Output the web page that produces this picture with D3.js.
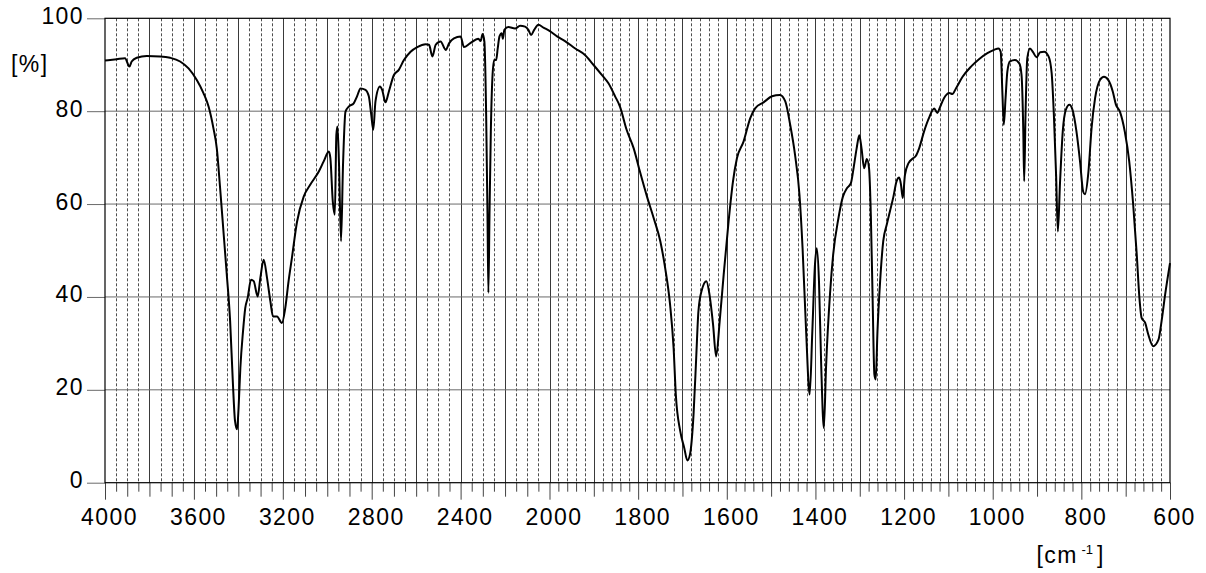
<!DOCTYPE html>
<html>
<head>
<meta charset="utf-8">
<script src="https://cdn.jsdelivr.net/npm/d3@7"></script>
<style>
  html, body { margin: 0; padding: 0; background: #fff; }
  svg { display: block; }
  text { font-family: "Liberation Sans", Arial, Helvetica, sans-serif; fill: #000; }
</style>
</head>
<body>
<svg id="chart" width="1206" height="573"></svg>
<script>
// ---- data ----
const wavenumbers = [
  4000,3947,3910,3890,3880,3857,3812,3752,3707,3662,3624,3587,3557,3534,3512,3497,3482,3467,3452,3437,
  3425,3415,3406,3399,3391,3379,3369,3358,3343,3331,3313,3301,3286,3271,3256,3244,3226,3204,3189,3174,
  3159,3136,3106,3076,3038,3016,2993,2986,2975,2966,2959,2954,2947,2938,2929,2918,2903,2881,2866,2850,
  2828,2813,2802,2793,2783,2763,2753,2738,2723,2700,2678,2655,2625,2595,2557,2542,2527,2512,2490,2467,
  2452,2430,2400,2385,2358,2320,2310,2301,2293,2285,2279,2275,2270,2264,2257,2249,2240,2233,2225,2215,
  2210,2203,2185,2155,2132,2110,2095,2083,2069,2050,2027,2000,1983,1965,1942,1920,1901,1882,1867,1852,
  1841,1826,1810,1796,1780,1765,1750,1739,1728,1720,1715,1705,1696,1689,1683,1675,1669,1664,1656,1646,
  1639,1631,1624,1616,1607,1596,1586,1577,1562,1547,1536,1517,1498,1480,1468,1457,1446,1436,1429,1421,
  1413,1407,1401,1397,1392,1387,1381,1376,1367,1360,1348,1338,1329,1320,1314,1307,1301,1296,1290,1284,
  1279,1275,1271,1267,1264,1260,1254,1247,1239,1232,1224,1217,1211,1207,1203,1198,1190,1179,1174,1166,
  1155,1144,1132,1125,1120,1110,1098,1091,1083,1068,1049,1031,1012,997,987,982,978,975,971,967,
  961,950,940,935,931,929,926,922,916,909,901,893,884,874,867,862,857,853,848,842,
  835,827,820,811,803,796,792,784,777,769,758,749,739,729,722,713,702,692,683,675,
  669,664,656,649,638,626,619,611,600
];
const transmittance = [
  90.9,91.2,91.4,89.6,90.7,91.5,91.9,91.8,91.5,90.7,89.2,86.7,83.9,81.0,76.3,72.0,63.4,54.1,44.8,34.8,
  21.9,13.3,11.5,16.1,24.7,32.6,37.6,39.8,43.7,43.4,40.1,44.1,48.0,44.1,39.1,35.8,35.8,34.4,37.6,43.4,
  48.4,56.2,61.6,64.2,67.0,69.2,71.3,69.9,60.5,57.7,74.9,76.7,68.5,52.0,68.5,79.9,81.0,81.7,83.2,84.9,
  84.6,83.2,79.2,76.0,82.1,85.3,84.6,81.9,84.2,87.8,88.9,91.0,92.8,93.8,94.4,94.3,91.8,94.3,95.0,93.2,
  94.6,95.7,96.1,93.8,94.6,95.6,95.1,96.6,95.0,79.2,57.7,40.9,57.7,75.6,87.1,91.0,91.0,93.5,96.1,96.8,
  95.6,97.5,98.1,97.8,98.4,98.2,97.5,96.4,97.5,98.6,98.0,97.3,96.1,95.1,93.5,92.1,90.0,87.8,86.0,83.2,
  81.0,76.0,72.0,67.0,61.6,57.0,52.0,46.2,38.4,29.0,19.0,11.1,7.5,4.8,6.1,14.7,26.9,36.9,41.6,43.4,
  40.5,34.1,27.2,34.8,44.8,56.2,64.9,69.9,73.5,78.5,80.6,81.9,83.2,83.5,82.1,77.1,70.6,62.0,50.5,32.6,
  19.0,32.6,47.0,50.5,43.4,25.4,11.8,25.0,40.8,49.1,57.0,61.6,63.4,64.5,67.7,72.0,74.8,72.0,67.7,69.7,
  67.7,57.7,39.8,23.3,22.2,32.6,43.4,52.0,55.6,58.4,61.6,64.9,65.7,64.2,61.3,66.3,68.8,69.9,70.3,72.0,
  75.6,78.5,80.6,79.6,80.6,82.8,83.9,83.7,84.9,87.4,89.6,91.2,92.5,93.2,93.5,92.8,83.5,77.1,82.8,88.5,
  90.7,91.0,90.3,87.8,75.6,64.9,79.2,91.4,93.5,92.7,91.6,92.7,92.8,91.8,88.2,79.2,66.3,54.1,64.9,75.6,
  80.3,81.4,80.3,75.6,69.2,62.7,62.1,67.0,76.3,82.8,86.7,87.4,86.7,84.2,81.4,79.9,75.6,69.2,59.8,49.1,
  39.8,35.5,34.4,31.9,29.4,30.8,34.8,40.5,47.3
];
const xTickLabels = [4000, 3600, 3200, 2800, 2400, 2000, 1800, 1600, 1400, 1200, 1000, 800, 600];
const yTickLabels = [0, 20, 40, 60, 80, 100];
const yAxisTitle = "[%]";
const xAxisTitle = ["[cm", "-1", "]"];

// ---- layout ----
const L = 105, R = 1170, T = 18.3, B = 482.7;
const svg = d3.select("#chart");

// piecewise wavenumber scale (scale change at 2000 cm-1)
const x = d3.scaleLinear().domain([4000, 2000, 600]).range([L, 549.5, R]);
const y = d3.scaleLinear().domain([0, 100]).range([B, T]);

// ---- vertical grid ----
const leftGrid = d3.range(3950, 2000, -50);
const rightGrid = d3.range(2000, 600, -20);
const gridVals = leftGrid.concat(rightGrid).map(v => ({
  v, solid: v > 2000 ? v % 200 === 0 : v % 100 === 0
}));
const grid = svg.append("g");
grid.selectAll("line.v").data(gridVals).join("line")
  .attr("x1", d => Math.round(x(d.v)) + 0.5).attr("x2", d => Math.round(x(d.v)) + 0.5)
  .attr("y1", T).attr("y2", B)
  .attr("stroke", d => d.solid ? "#3a3a3a" : "#222")
  .attr("stroke-width", d => d.solid ? 1 : 0.8)
  .attr("stroke-dasharray", d => d.solid ? null : "3,2");

// horizontal grid
grid.selectAll("line.h").data(yTickLabels.filter(v => v > 0 && v < 100)).join("line")
  .attr("x1", L).attr("x2", R)
  .attr("y1", d => y(d)).attr("y2", d => y(d))
  .attr("stroke", "#6a6a6a").attr("stroke-width", 1);

// ---- x axis ticks (three lengths) ----
const allTicks = d3.range(4000, 2000, -50).concat(d3.range(2000, 599, -20));
function tickLen(v) {
  if (v > 2000) return v % 400 === 0 ? 17 : (v % 100 === 0 ? 14 : 9);
  return v % 200 === 0 ? 17 : (v % 100 === 0 ? 14 : 9);
}
[9, 14, 17].forEach(len => {
  const vals = allTicks.filter(v => tickLen(v) === len);
  const ax = d3.axisBottom(x).tickValues(vals).tickSize(len).tickSizeOuter(0)
    .tickFormat(len === 17 ? d3.format("d") : "");
  const g = svg.append("g").attr("transform", `translate(0,${B})`).call(ax);
  g.select(".domain").remove();
  g.selectAll(".tick line").attr("stroke", "#444").attr("stroke-width", 1);
  g.selectAll(".tick text")
    .attr("y", 42).attr("dy", 0).attr("dx", 4)
    .style("font-size", "23px").style("letter-spacing", "1.4px")
    .attr("fill", "#000");
});

// ---- y axis ----
const yAx = d3.axisLeft(y).tickValues(yTickLabels).tickSize(18).tickSizeOuter(0).tickPadding(3);
const gy = svg.append("g").attr("transform", `translate(${L},0)`).call(yAx);
gy.select(".domain").remove();
gy.selectAll(".tick line").attr("stroke", "#6a6a6a");
gy.selectAll(".tick text").attr("dy", 5).attr("x", -21)
  .style("font-size", "23px").style("letter-spacing", "1.4px").attr("fill", "#000");

// ---- frame ----
svg.append("rect").attr("x", L).attr("y", T).attr("width", R - L).attr("height", B - T)
  .attr("fill", "none").attr("stroke", "#000").attr("stroke-width", 1.2);

// ---- spectrum ----
const pts = wavenumbers.map((w, i) => [w, transmittance[i]]);
const line = d3.line().x(d => x(d[0])).y(d => y(d[1])).curve(d3.curveMonotoneX);
svg.append("path").datum(pts).attr("d", line)
  .attr("fill", "none").attr("stroke", "#000").attr("stroke-width", 2)
  .attr("stroke-linejoin", "round");

// ---- titles ----
svg.append("text").attr("x", 11).attr("y", 72).text(yAxisTitle)
  .style("font-size", "23px").style("letter-spacing", "1.4px");
svg.append("text").attr("x", 1036.5).attr("y", 562.5).text(xAxisTitle[0])
  .style("font-size", "23px").style("letter-spacing", "1.4px");
svg.append("text").attr("x", 1081.5).attr("y", 553.5).text(xAxisTitle[1])
  .style("font-size", "13px");
svg.append("text").attr("x", 1097).attr("y", 562.5).text(xAxisTitle[2])
  .style("font-size", "23px");
</script>
</body>
</html>
